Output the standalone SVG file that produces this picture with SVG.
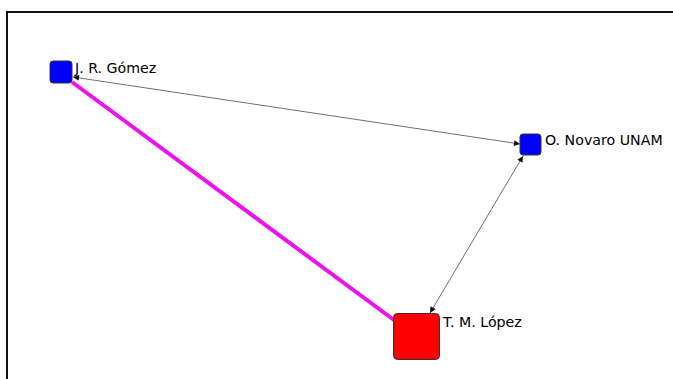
<svg xmlns="http://www.w3.org/2000/svg" width="673" height="379" viewBox="0 0 673 379">
<defs>
<style>
.lbl{font-family:"DejaVu Sans",Verdana,sans-serif;font-size:14.2px;fill:#000}
.sq{stroke:#333;stroke-width:1}
.arc{stroke:#707070;stroke-width:1;fill:none}
</style>
<marker id="ah" viewBox="0 0 10 10" refX="10" refY="5" markerWidth="7" markerHeight="6" markerUnits="userSpaceOnUse" orient="auto-start-reverse">
<path d="M0,0 L10,5 L0,10 z" fill="#111"/>
</marker>
</defs>
<rect x="0" y="0" width="673" height="379" fill="#fff"/>
<path d="M7,379 L7,12 L673,12" fill="none" stroke="#111" stroke-width="2"/>
<g id="connectors">
<line x1="72" y1="82" x2="394" y2="320" stroke="#ee11ee" stroke-width="4"/>
<line class="arc" x1="73" y1="77" x2="520" y2="144" marker-start="url(#ah)" marker-end="url(#ah)"/>
<line class="arc" x1="430" y1="313" x2="523" y2="156" marker-start="url(#ah)" marker-end="url(#ah)"/>
</g>
<g id="node-gomez">
<rect class="sq" x="50" y="61" width="22" height="22" rx="3" fill="#0000ff"/>
<text class="lbl" x="75" y="73">J. R. Gómez</text>
</g>
<g id="node-novaro">
<rect class="sq" x="520" y="134" width="21" height="21" rx="3" fill="#0000ff"/>
<text class="lbl" x="545" y="145">O. Novaro UNAM</text>
</g>
<g id="node-lopez">
<rect class="sq" x="393.5" y="313.5" width="46" height="46" rx="4" fill="#ff0000"/>
<text class="lbl" x="443" y="327">T. M. López</text>
</g>
</svg>
